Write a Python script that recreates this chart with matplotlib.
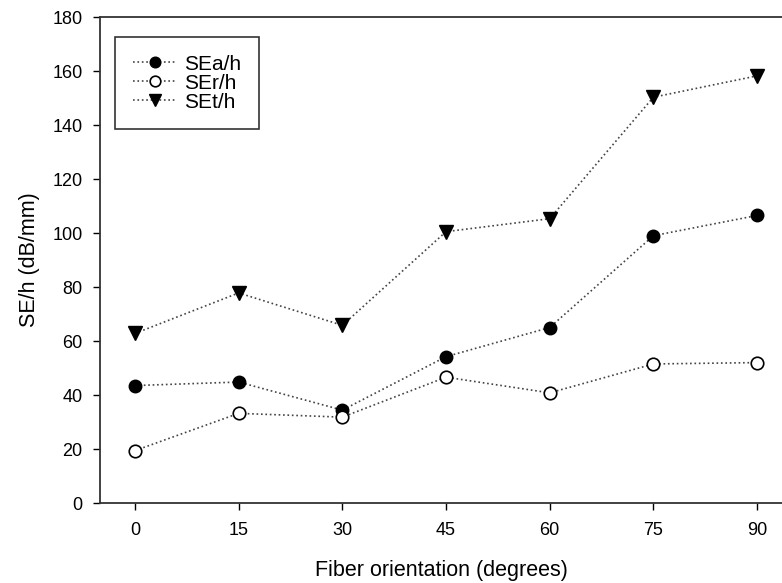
import numpy as np
import matplotlib.pyplot as plt

plt.rcParams['font.family'] = ['Liberation Sans', 'DejaVu Sans']

angles = [0, 15, 30, 45, 60, 75, 90]
sea_h = [43.5, 44.8, 34.4, 54.2, 65.0, 99.0, 106.5]
ser_h = [19.4, 33.2, 31.8, 46.6, 40.8, 51.5, 52.0]
set_h = [62.8, 77.8, 65.8, 100.5, 105.3, 150.3, 158.2]

fig = plt.figure(figsize=(7.82, 5.83), dpi=100)
ax = fig.add_axes([100 / 782, 1 - 503 / 583, 682 / 782, 486 / 583])

lc = '#444444'
ax.plot(angles, sea_h, ls=':', color=lc, lw=1.2, marker='o', ms=9,
        mfc='black', mec='black', label='SEa/h')
ax.plot(angles, ser_h, ls=':', color=lc, lw=1.2, marker='o', ms=9,
        mfc='white', mec='black', mew=1.2, label='SEr/h')
ax.plot(angles, set_h, ls=':', color=lc, lw=1.2, marker='v', ms=10,
        mfc='black', mec='black', label='SEt/h')

ax.set_xlim(-5.06, 93.6)
ax.set_ylim(0, 180)
ax.set_xticks(angles)
ax.set_yticks(np.arange(0, 181, 20))
ax.tick_params(direction='out', length=5, width=1, labelsize=13)
ax.tick_params(axis='x', pad=9)
ax.tick_params(axis='y', pad=7.5)
ax.spines['right'].set_visible(False)
for s in ['left', 'top', 'bottom']:
    ax.spines[s].set_linewidth(1.3)
    ax.spines[s].set_color('#333333')

ax.set_xlabel('Fiber orientation (degrees)', fontsize=15.5, labelpad=15)
ax.set_ylabel('SE/h (dB/mm)', fontsize=15.5, labelpad=9)

leg = ax.legend(loc='upper left', bbox_to_anchor=(115 / 782, 1 - 37 / 583),
                bbox_transform=fig.transFigure, borderaxespad=0,
                fontsize=15, frameon=True, fancybox=False, edgecolor='black',
                handlelength=2.1, handletextpad=0.35, borderpad=0.85,
                labelspacing=0.0, markerscale=0.85)
leg.get_frame().set_linewidth(1.2)

fig.savefig('out.png', dpi=100)
